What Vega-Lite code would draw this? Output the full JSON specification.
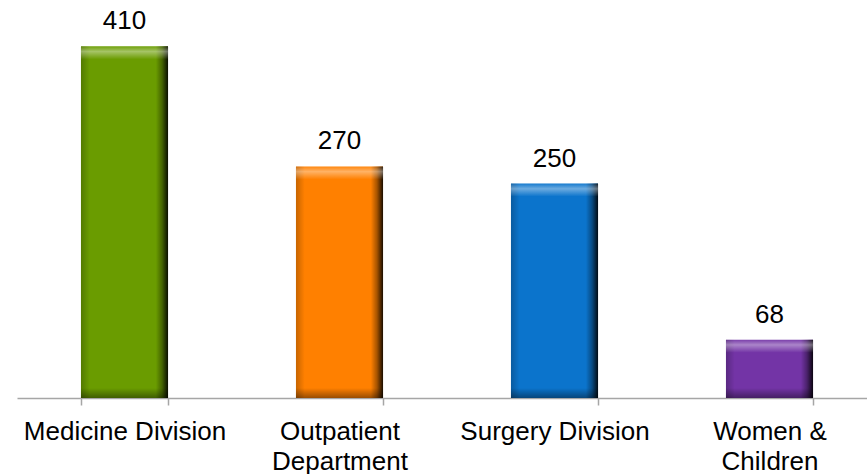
{
  "$schema": "https://vega.github.io/schema/vega-lite/v6.json",
  "autosize": "none",
  "width": 850,
  "height": 386,
  "padding": {"left": 17, "top": 12, "right": 0, "bottom": 76},
  "background": "#ffffff",
  "config": {
    "view": {"stroke": null},
    "font": "Liberation Sans"
  },
  "data": {
    "values": [
      {"division": "Medicine Division", "patients": 410},
      {"division": "Outpatient Department", "patients": 270},
      {"division": "Surgery Division", "patients": 250},
      {"division": "Women & Children", "patients": 68}
    ]
  },
  "encoding": {
    "x": {
      "field": "division",
      "type": "nominal",
      "sort": null,
      "scale": {"range": [0, 860], "paddingInner": 0.595, "paddingOuter": 0.2975},
      "axis": {
        "title": null,
        "domainColor": "#a6a6a6",
        "domainWidth": 1.5,
        "tickColor": "#a6a6a6",
        "tickWidth": 1.5,
        "tickSize": 7,
        "tickBand": "extent",
        "labelAngle": 0,
        "labelFont": "Liberation Sans",
        "labelFontSize": 26,
        "labelColor": "#000000",
        "labelPadding": 13,
        "labelLineHeight": 30,
        "labelLimit": 300,
        "labelExpr": "datum.value == 'Outpatient Department' ? ['Outpatient', 'Department'] : datum.value == 'Women & Children' ? ['Women &', 'Children'] : datum.label"
      }
    }
  },
  "layer": [
    {
      "mark": {"type": "bar"},
      "encoding": {
        "y": {"field": "patients", "type": "quantitative", "scale": {"domain": [0, 450]}, "axis": null},
        "color": {
          "field": "division",
          "type": "nominal",
          "sort": null,
          "scale": {"range": ["#6a9c00", "#ff8000", "#0b74cc", "#7334a6"]},
          "legend": null
        }
      }
    },
    {
      "mark": {
        "type": "bar",
        "fill": {
          "gradient": "linear", "x1": 0, "x2": 1, "y1": 0, "y2": 0,
          "stops": [
            {"offset": 0, "color": "rgba(0,0,0,0.22)"},
            {"offset": 0.1, "color": "rgba(0,0,0,0)"},
            {"offset": 0.86, "color": "rgba(0,0,0,0)"},
            {"offset": 0.93, "color": "rgba(0,0,0,0.35)"},
            {"offset": 1, "color": "rgba(0,0,0,0.9)"}
          ]
        }
      },
      "encoding": {
        "y": {"field": "patients", "type": "quantitative"}
      }
    },
    {
      "mark": {
        "type": "bar",
        "y2Offset": 13,
        "fill": {
          "gradient": "linear", "x1": 0, "x2": 0, "y1": 0, "y2": 1,
          "stops": [
            {"offset": 0, "color": "rgba(255,255,255,0.05)"},
            {"offset": 0.4, "color": "rgba(255,255,255,0.4)"},
            {"offset": 1, "color": "rgba(255,255,255,0)"}
          ]
        }
      },
      "encoding": {
        "y": {"field": "patients", "type": "quantitative"},
        "y2": {"field": "patients"}
      }
    },
    {
      "mark": {
        "type": "bar",
        "y2Offset": -10,
        "fill": {
          "gradient": "linear", "x1": 0, "x2": 0, "y1": 0, "y2": 1,
          "stops": [
            {"offset": 0, "color": "rgba(0,0,0,0)"},
            {"offset": 1, "color": "rgba(0,0,0,0.4)"}
          ]
        }
      },
      "encoding": {
        "y": {"datum": 0, "type": "quantitative"},
        "y2": {"datum": 0}
      }
    },
    {
      "mark": {"type": "text", "baseline": "alphabetic", "dy": -17, "fontSize": 26, "font": "Liberation Sans", "color": "#000000"},
      "encoding": {
        "y": {"field": "patients", "type": "quantitative"},
        "text": {"field": "patients", "type": "quantitative"}
      }
    }
  ]
}
